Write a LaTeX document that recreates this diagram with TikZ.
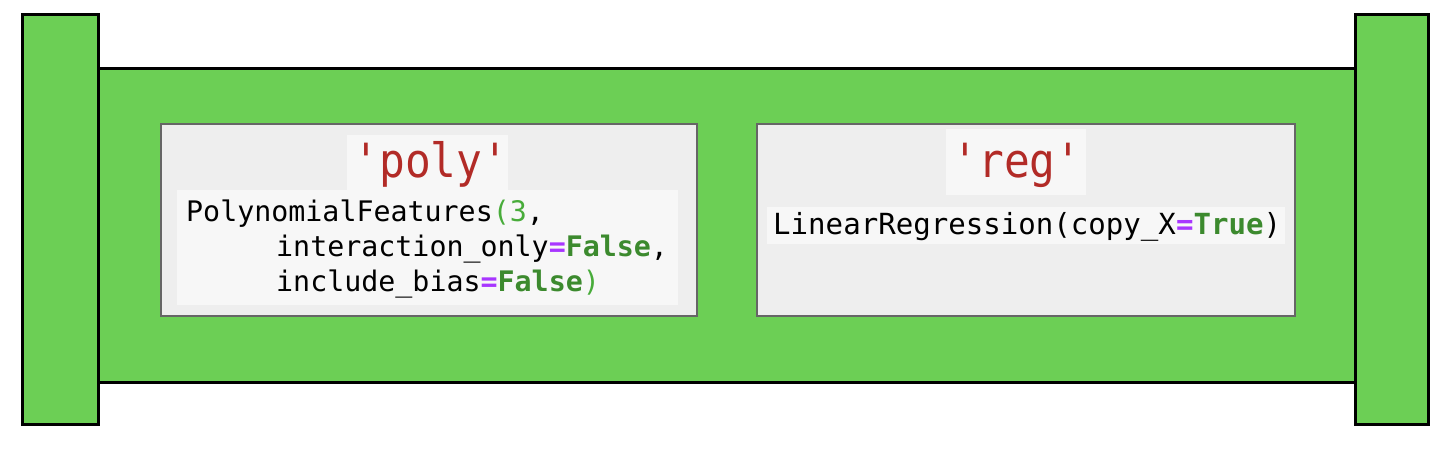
\documentclass[tikz,border=0pt]{standalone}
\usepackage{fontspec}
\newfontfamily\codefont{DejaVu Sans Mono}
\definecolor{pipegreen}{HTML}{6CCF55}
\definecolor{boxfill}{HTML}{EEEEEE}
\definecolor{boxline}{HTML}{666666}
\definecolor{codebg}{HTML}{F7F7F7}
\definecolor{strred}{HTML}{B22B27}
\definecolor{kwgreen}{HTML}{3C8A2E}
\definecolor{numgreen}{HTML}{48AC3A}
\definecolor{oppurple}{HTML}{A836FF}
\tikzset{
  pipebar/.style={draw=black, line width=3bp, fill=pipegreen, inner sep=0pt},
  stepbox/.style={draw=boxline, line width=1.6bp, fill=boxfill, inner sep=0pt},
  codebox/.style={fill=codebg, draw=none, inner sep=0pt},
  codeline/.style={anchor=base west, inner sep=0pt, font=\codefont\fontsize{28.4}{35}\selectfont},
  regline/.style={anchor=base west, inner sep=0pt, font=\codefont\fontsize{29.2}{35}\selectfont},
  titletext/.style={anchor=base, inner sep=0pt, text=strred, font=\codefont\fontsize{43}{48}\selectfont}
}
\newcommand{\kwd}[1]{\textcolor{kwgreen}{\bfseries #1}}
\newcommand{\opeq}{\textcolor{oppurple}{\bfseries =}}
\newcommand{\tall}[1]{\scalebox{1}[1.1]{#1}}
\begin{document}
\begin{tikzpicture}[x=1bp,y=-1bp]
\useasboundingbox (0,0) rectangle (1450,452);
% main pipe body
\node[pipebar, minimum width=1257bp, minimum height=313bp] (body) at (726.5,225.5) {};
\node[pipebar, minimum width=75bp, minimum height=409bp] (lbar) at (60.5,219.5) {};
\node[pipebar, minimum width=73bp, minimum height=409bp] (rbar) at (1391.5,219.5) {};
% step boxes
\node[stepbox, minimum width=536bp, minimum height=192bp] (poly) at (429,220) {};
\node[stepbox, minimum width=538bp, minimum height=192bp] (reg) at (1026,220) {};
% backgrounds
\node[codebox, minimum width=161bp, minimum height=55bp] (polytbg) at (427.5,162.5) {};
\node[codebox, minimum width=500bp, minimum height=115bp] (polycbg) at (427.5,247.5) {};
\node[codebox, minimum width=140bp, minimum height=66bp] (regtbg) at (1016,162) {};
\node[codebox, minimum width=518bp, minimum height=37bp] (regcbg) at (1026,225.5) {};
% titles
\node[titletext] (polyt) at (431,178) {\tall{'poly'}};
\node[titletext] (regt) at (1017,178) {\tall{'reg'}};
% code lines
\node[codeline] (pl1) at (186,222) {PolynomialFeatures\textcolor{numgreen}{(3},};
\node[codeline] (pl2) at (276,257) {interaction\_only\opeq\kwd{False},};
\node[codeline] (pl3) at (276,292) {include\_bias\opeq\kwd{False}\textcolor{numgreen}{)}};
\node[regline] (rl1) at (773,235) {LinearRegression(copy\_X\opeq\kwd{True})};
\end{tikzpicture}
\end{document}
